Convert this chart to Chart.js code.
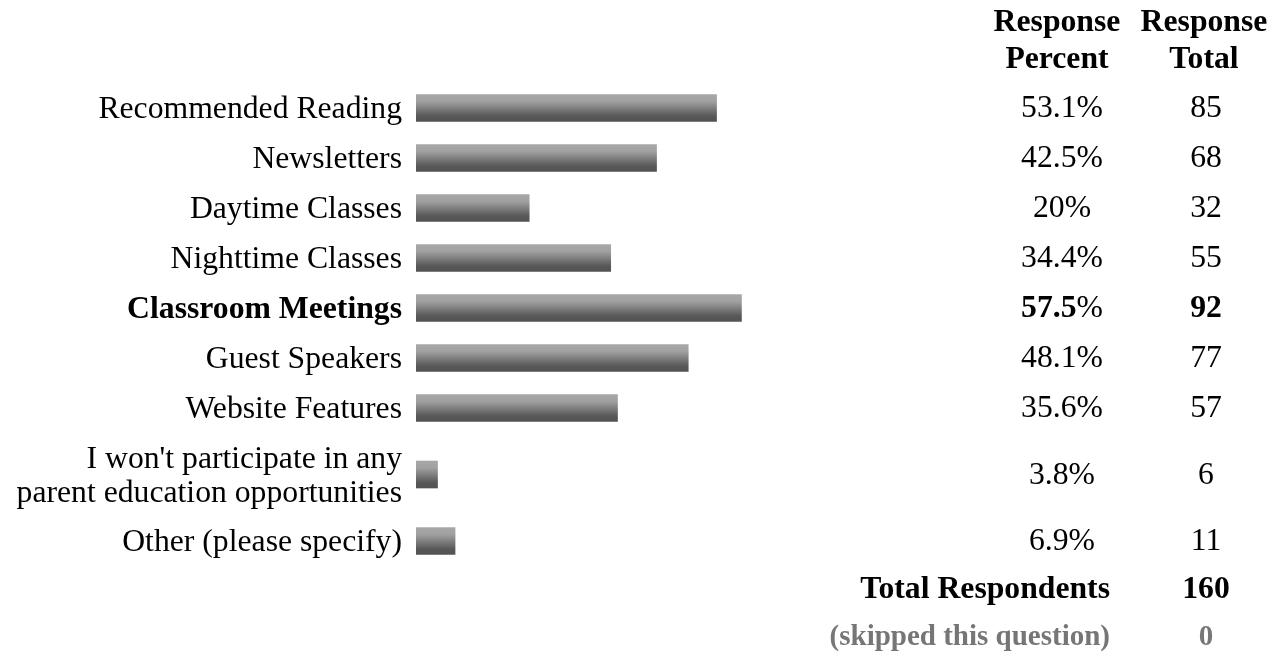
<!DOCTYPE html>
<html>
<head>
<meta charset="utf-8">
<title>Parent Education Opportunities</title>
<script src="https://cdn.jsdelivr.net/npm/chart.js@4.4.1/dist/chart.umd.min.js"></script>
<style>
    html, body {
        margin: 0;
        padding: 0;
        background: #ffffff;
    }
    #wrap {
        width: 1279px;
        height: 656px;
    }
</style>
</head>
<body>
<div id="wrap">
    <canvas id="surveyChart" width="1279" height="656"></canvas>
</div>
<script>
// Survey answers (multi-line labels are split into arrays)
const categories = [
    'Recommended Reading',
    'Newsletters',
    'Daytime Classes',
    'Nighttime Classes',
    'Classroom Meetings',
    'Guest Speakers',
    'Website Features',
    ["I won't participate in any", 'parent education opportunities'],
    'Other (please specify)'
];
const responsePercent = [53.1, 42.5, 20, 34.4, 57.5, 48.1, 35.6, 3.8, 6.9];
const responseTotal = [85, 68, 32, 55, 92, 77, 57, 6, 11];
const columnHeaders = [['Response', 'Percent'], ['Response', 'Total']];
const totalRespondents = 160;
const skippedQuestion = 0;

// Layout
const FONT = '"Liberation Serif", "Times New Roman", serif';
const FONT_SIZE = 31.7;
const ROW_HEIGHT = 50;
const EXTRA_LINE = 33;
const TABLE_TOP = 83;
const PCT_COL_X = 1062;
const TOTAL_COL_X = 1206;
const FOOTER_RIGHT = 1110;

// Row centres follow the number of lines in each label
const rowHeights = categories.map(c => ROW_HEIGHT + (Array.isArray(c) ? c.length - 1 : 0) * EXTRA_LINE);
const rowCenters = [];
let acc = 0;
rowHeights.forEach(h => {
    rowCenters.push(acc + h / 2);
    acc += h;
});
const tableHeight = acc;

// The most chosen answer is shown in bold
const topIndex = responsePercent.indexOf(Math.max(...responsePercent));

Chart.defaults.font.family = FONT;
Chart.defaults.font.size = FONT_SIZE;
Chart.defaults.color = '#000000';

function barGradient(context) {
    const chart = context.chart;
    if (!chart.chartArea || !chart.scales.y) {
        return '#7a7a7a';
    }
    const yc = chart.scales.y.getPixelForValue(rowCenters[context.dataIndex]);
    const half = 27 / 2;
    const g = chart.ctx.createLinearGradient(0, yc - half, 0, yc + half);
    g.addColorStop(0, '#a7a7a7');
    g.addColorStop(0.25, '#a1a1a1');
    g.addColorStop(0.8, '#585858');
    g.addColorStop(1, '#525252');
    return g;
}

// Draws the percent / total columns, headers and footer rows
const tableColumns = {
    id: 'tableColumns',
    afterDraw(chart) {
        const ctx = chart.ctx;
        const yScale = chart.scales.y;
        const regular = FONT_SIZE + 'px ' + FONT;
        const bold = 'bold ' + FONT_SIZE + 'px ' + FONT;
        ctx.save();
        ctx.textBaseline = 'middle';
        ctx.fillStyle = '#000000';

        // headers
        ctx.font = bold;
        ctx.textAlign = 'center';
        [PCT_COL_X - 5, TOTAL_COL_X - 2].forEach((x, i) => {
            ctx.fillText(columnHeaders[i][0], x, 23);
            ctx.fillText(columnHeaders[i][1], x, 60);
        });

        // rows
        responsePercent.forEach((p, i) => {
            const y = yScale.getPixelForValue(rowCenters[i]) + 1;
            const isTop = i === topIndex;
            const num = String(p);
            ctx.font = isTop ? bold : regular;
            const wNum = ctx.measureText(num).width;
            ctx.font = regular;
            const wPct = ctx.measureText('%').width;
            const x = PCT_COL_X - (wNum + wPct) / 2;
            ctx.textAlign = 'left';
            ctx.font = isTop ? bold : regular;
            ctx.fillText(num, x, y);
            ctx.font = regular;
            ctx.fillText('%', x + wNum, y);

            ctx.textAlign = 'center';
            ctx.font = isTop ? bold : regular;
            ctx.fillText(String(responseTotal[i]), TOTAL_COL_X, y);
        });

        // footer
        ctx.font = bold;
        ctx.textAlign = 'right';
        ctx.fillText('Total Respondents', FOOTER_RIGHT, 590);
        ctx.textAlign = 'center';
        ctx.fillText(String(totalRespondents), TOTAL_COL_X, 590);

        ctx.fillStyle = '#767676';
        ctx.font = 'bold 29px ' + FONT;
        ctx.textAlign = 'right';
        ctx.fillText('(skipped this question)', FOOTER_RIGHT, 638);
        ctx.textAlign = 'center';
        ctx.fillText(String(skippedQuestion), TOTAL_COL_X, 638);
        ctx.restore();
    }
};

const chartCtx = document.getElementById('surveyChart').getContext('2d');
const surveyChart = new Chart(chartCtx, {
    type: 'bar',
    data: {
        datasets: [{
            data: responsePercent.map((p, i) => ({ x: p, y: rowCenters[i] })),
            backgroundColor: barGradient,
            borderWidth: 0,
            barThickness: 27
        }]
    },
    options: {
        indexAxis: 'y',
        responsive: false,
        animation: false,
        layout: {
            padding: { top: TABLE_TOP, bottom: 656 - TABLE_TOP - tableHeight, left: 0, right: 297 }
        },
        plugins: {
            legend: { display: false },
            tooltip: { enabled: false }
        },
        scales: {
            x: {
                type: 'linear',
                display: false,
                min: 0,
                max: 100
            },
            y: {
                type: 'linear',
                reverse: true,
                offset: false,
                grace: 0,
                min: 0,
                max: tableHeight,
                afterBuildTicks(scale) {
                    scale.ticks = rowCenters.map(v => ({ value: v }));
                },
                afterFit(scale) {
                    // fixed label column, no extra room for the end labels
                    scale.width = 416;
                    scale.paddingTop = 0;
                    scale.paddingBottom = 0;
                },
                grid: { display: false, drawTicks: false },
                border: { display: false },
                ticks: {
                    autoSkip: false,
                    padding: 14,
                    labelOffset: 2,
                    color: '#000000',
                    font: (ctx) => ({
                        family: FONT,
                        size: FONT_SIZE,
                        lineHeight: 1.07,
                        weight: ctx.index === topIndex ? 'bold' : 'normal'
                    }),
                    callback: (value, index) => categories[index]
                }
            }
        }
    },
    plugins: [tableColumns]
});
</script>
</body>
</html>
